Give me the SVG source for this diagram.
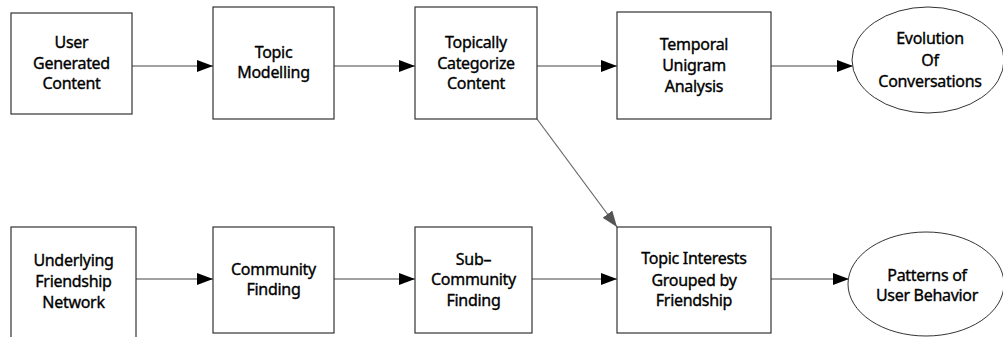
<svg xmlns="http://www.w3.org/2000/svg" width="1003" height="337" viewBox="0 0 1003 337">
<defs>
<style>
.box{fill:#fff;stroke:#333;stroke-width:1.2}
.ell{fill:#fff;stroke:#333;stroke-width:1}
.lbl{font-family:"Noto Sans","Liberation Sans",sans-serif;font-size:16px;fill:#000;stroke:#000;stroke-width:0.35;text-anchor:middle;letter-spacing:-0.3px}
.edge{stroke:#444;stroke-width:1.2;fill:none}
.diag{stroke:#666;stroke-width:1.2;fill:none}
</style>
<marker id="ah" markerUnits="userSpaceOnUse" markerWidth="16" markerHeight="12" refX="16" refY="6" orient="auto"><path d="M0,0 L16,6 L0,12 Z" fill="#000"/></marker>
<marker id="ahg" markerUnits="userSpaceOnUse" markerWidth="16" markerHeight="12" refX="16" refY="6" orient="auto"><path d="M0,0 L16,6 L0,12 Z" fill="#555"/></marker>
</defs>
<rect width="1003" height="337" fill="#fff"/>
<g id="connectors">
<line class="edge" x1="132" y1="66" x2="213" y2="66" marker-end="url(#ah)"/>
<line class="edge" x1="334" y1="66" x2="415" y2="66" marker-end="url(#ah)"/>
<line class="edge" x1="537" y1="66" x2="617" y2="66" marker-end="url(#ah)"/>
<line class="edge" x1="771" y1="66" x2="853" y2="66" marker-end="url(#ah)"/>
<line class="edge" x1="136" y1="279" x2="213" y2="279" marker-end="url(#ah)"/>
<line class="edge" x1="334" y1="279" x2="415" y2="279" marker-end="url(#ah)"/>
<line class="edge" x1="532" y1="279" x2="617" y2="279" marker-end="url(#ah)"/>
<line class="edge" x1="771" y1="279" x2="849" y2="279" marker-end="url(#ah)"/>
<line class="diag" x1="537" y1="119" x2="617" y2="227" marker-end="url(#ahg)"/>
</g>
<g id="n1"><rect class="box" x="11" y="13" width="121" height="101"/>
<text class="lbl"><tspan x="71.5" y="48">User</tspan><tspan x="71.5" y="69">Generated</tspan><tspan x="71.5" y="89">Content</tspan></text></g>
<g id="n2"><rect class="box" x="213" y="7" width="121" height="112"/>
<text class="lbl"><tspan x="273.5" y="58">Topic</tspan><tspan x="273.5" y="78">Modelling</tspan></text></g>
<g id="n3"><rect class="box" x="415" y="7" width="122" height="112"/>
<text class="lbl"><tspan x="476" y="48">Topically</tspan><tspan x="476" y="69">Categorize</tspan><tspan x="476" y="89">Content</tspan></text></g>
<g id="n4"><rect class="box" x="617" y="12" width="154" height="107"/>
<text class="lbl"><tspan x="694" y="50">Temporal</tspan><tspan x="694" y="71">Unigram</tspan><tspan x="694" y="92">Analysis</tspan></text></g>
<g id="n5"><ellipse class="ell" cx="928" cy="60" rx="76" ry="53"/>
<text class="lbl"><tspan x="930" y="44">Evolution</tspan><tspan x="930" y="66">Of</tspan><tspan x="930" y="87">Conversations</tspan></text></g>
<g id="n6"><rect class="box" x="11" y="227" width="125" height="115"/>
<text class="lbl"><tspan x="73.5" y="266">Underlying</tspan><tspan x="73.5" y="287">Friendship</tspan><tspan x="73.5" y="308">Network</tspan></text></g>
<g id="n7"><rect class="box" x="213" y="227" width="121" height="106"/>
<text class="lbl"><tspan x="273.5" y="275">Community</tspan><tspan x="273.5" y="295">Finding</tspan></text></g>
<g id="n8"><rect class="box" x="415" y="227" width="117" height="106"/>
<text class="lbl"><tspan x="473.5" y="265">Sub–</tspan><tspan x="473.5" y="285">Community</tspan><tspan x="473.5" y="306">Finding</tspan></text></g>
<g id="n9"><rect class="box" x="617" y="227" width="154" height="106"/>
<text class="lbl"><tspan x="694" y="264">Topic Interests</tspan><tspan x="694" y="286">Grouped by</tspan><tspan x="694" y="306">Friendship</tspan></text></g>
<g id="n10"><ellipse class="ell" cx="926" cy="284" rx="78" ry="52"/>
<text class="lbl"><tspan x="927" y="281">Patterns of</tspan><tspan x="927" y="301">User Behavior</tspan></text></g>
</svg>
